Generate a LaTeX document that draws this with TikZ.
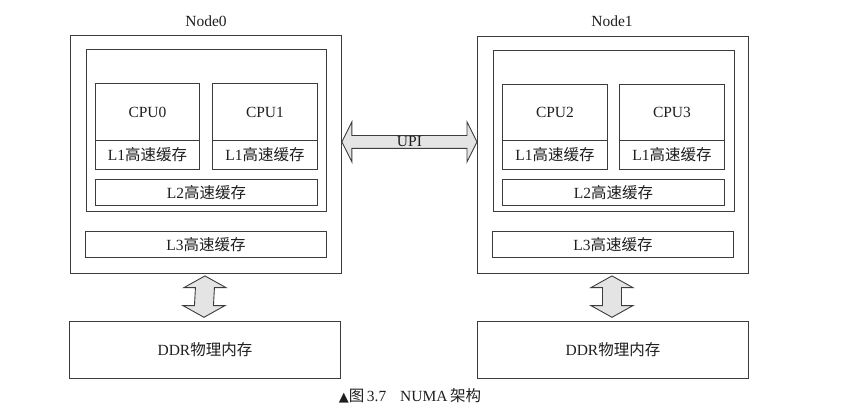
\documentclass[tikz,border=0pt]{standalone}
\usepackage{fontspec}
\setmainfont{Liberation Serif}
\newfontfamily\cjk{Noto Sans CJK SC}
\newfontfamily\symf{DejaVu Sans}
\usetikzlibrary{calc}
\definecolor{ln}{HTML}{3C3C3C}
\definecolor{tx}{HTML}{1E1E1E}
\definecolor{af}{HTML}{E4E4E4}
\begin{document}
\begin{tikzpicture}[x=1pt,y=-1pt,
  box/.style={draw=ln, line width=0.9pt, anchor=north west, inner sep=0pt, text=tx,
    font=\fontsize{15.5}{17}\selectfont},
  lbl/.style={text=tx, inner sep=1pt, font=\fontsize{15.5}{17}\selectfont},
  fat/.style={draw=ln, line width=0.9pt, fill=af, line join=miter}]
\useasboundingbox (0,0) rectangle (843,415);

% ---- Node0 ----
\node[box, minimum width=271pt, minimum height=238pt] (o0) at (70,35) {};
\node[box, minimum width=240pt, minimum height=162pt] (i0) at (86,49) {};
\node[box, minimum width=104pt, minimum height=57pt] (c0) at (95,83) {CPU0};
\node[box, minimum width=104pt, minimum height=29pt] (l10) at (95,140) {L1{\cjk 高速缓存}};
\node[box, minimum width=105pt, minimum height=57pt] (c1) at (212,83) {CPU1};
\node[box, minimum width=105pt, minimum height=29pt] (l11) at (212,140) {L1{\cjk 高速缓存}};
\node[box, minimum width=222pt, minimum height=26pt] (l20) at (95,179) {L2{\cjk 高速缓存}};
\node[box, minimum width=241pt, minimum height=26pt] (l30) at (85,231) {L3{\cjk 高速缓存}};
\node[box, minimum width=271pt, minimum height=57pt] (d0) at (69,321) {DDR{\cjk 物理内存}};
\node[lbl] (t0) at (206,21) {Node0};

% ---- Node1 ----
\node[box, minimum width=271pt, minimum height=237pt] (o1) at (477,36) {};
\node[box, minimum width=241pt, minimum height=161pt] (i1) at (493,50) {};
\node[box, minimum width=105pt, minimum height=56pt] (c2) at (502,84) {CPU2};
\node[box, minimum width=105pt, minimum height=29pt] (l12) at (502,140) {L1{\cjk 高速缓存}};
\node[box, minimum width=105pt, minimum height=56pt] (c3) at (619,84) {CPU3};
\node[box, minimum width=105pt, minimum height=29pt] (l13) at (619,140) {L1{\cjk 高速缓存}};
\node[box, minimum width=222pt, minimum height=26pt] (l21) at (502,179) {L2{\cjk 高速缓存}};
\node[box, minimum width=241pt, minimum height=26pt] (l31) at (492,231) {L3{\cjk 高速缓存}};
\node[box, minimum width=271pt, minimum height=57pt] (d1) at (477,321) {DDR{\cjk 物理内存}};
\node[lbl] (t1) at (612,21) {Node1};

% ---- UPI double arrow ----
\coordinate (uL) at ($(o0.east |- c0.south)+(0,1)$);
\coordinate (uR) at ($(o1.west |- c0.south)+(0,1)$);
\draw[fat] (uL) -- ++(10,-20) -- ++(0,13.6) -- ($(uR)+(-10,-6.4)$) -- ++(0,-13.6)
  -- (uR) -- ++(-10,20) -- ++(0,-13.6) -- ($(uL)+(10,6.4)$) -- ++(0,13.6) -- cycle;
\node[lbl] (upi) at ($(uL)!0.5!(uR)+(0,-0.5)$) {UPI};

% ---- vertical memory arrows ----
\coordinate (vT0) at ($(o0.south)+(-1,2)$);
\coordinate (vB0) at ($(d0.north)+(-1,-3.7)$);
\draw[fat] (vT0) -- ++(21,11.7) -- ++(-11.5,0) -- ($(vB0)+(9.5,-11.7)$) -- ++(11.5,0)
  -- (vB0) -- ++(-21,-11.7) -- ++(11.5,0) -- ($(vT0)+(-9.5,11.7)$) -- ++(-11.5,0) -- cycle;
\coordinate (vT1) at ($(o1.south)+(-1,2)$);
\coordinate (vB1) at ($(d1.north)+(-1,-3.7)$);
\draw[fat] (vT1) -- ++(21,11.7) -- ++(-11.5,0) -- ($(vB1)+(9.5,-11.7)$) -- ++(11.5,0)
  -- (vB1) -- ++(-21,-11.7) -- ++(11.5,0) -- ($(vT1)+(-9.5,11.7)$) -- ++(-11.5,0) -- cycle;

% ---- caption ----
\node[lbl] (cap) at (410,396) {{\symf\fontsize{13}{14}\selectfont ▲}{\cjk 图}\,3.7\hspace{0.9em}NUMA\,{\cjk 架构}};
\end{tikzpicture}
\end{document}
